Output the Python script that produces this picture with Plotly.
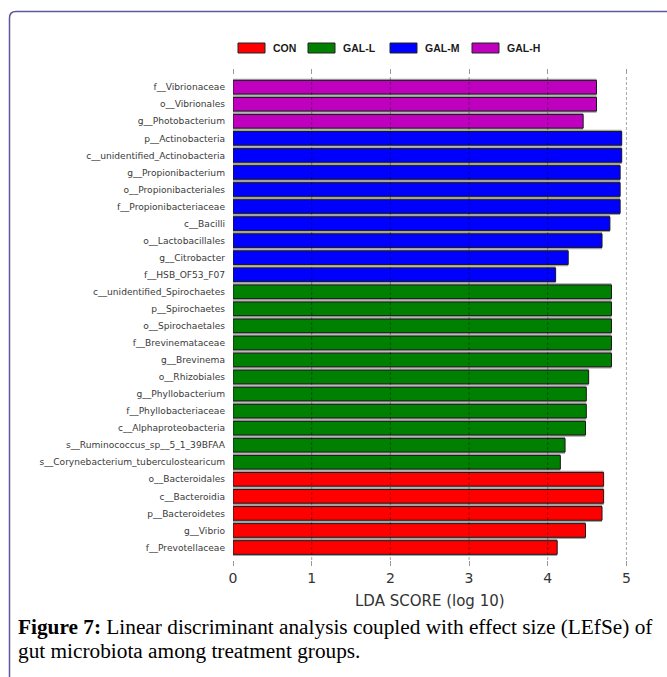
import plotly.graph_objects as go

# ---------------- data ----------------
features = [
    "f__Vibrionaceae", "o__Vibrionales", "g__Photobacterium",
    "p__Actinobacteria", "c__unidentified_Actinobacteria", "g__Propionibacterium",
    "o__Propionibacteriales", "f__Propionibacteriaceae", "c__Bacilli",
    "o__Lactobacillales", "g__Citrobacter", "f__HSB_OF53_F07",
    "c__unidentified_Spirochaetes", "p__Spirochaetes", "o__Spirochaetales",
    "f__Brevinemataceae", "g__Brevinema", "o__Rhizobiales", "g__Phyllobacterium",
    "f__Phyllobacteriaceae", "c__Alphaproteobacteria", "s__Ruminococcus_sp__5_1_39BFAA",
    "s__Corynebacterium_tuberculostearicum",
    "o__Bacteroidales", "c__Bacteroidia", "p__Bacteroidetes", "g__Vibrio", "f__Prevotellaceae",
]
scores = [
    4.62, 4.62, 4.45,
    4.94, 4.94, 4.92, 4.92, 4.92, 4.79, 4.69, 4.26, 4.10,
    4.81, 4.81, 4.81, 4.81, 4.81, 4.52, 4.49, 4.49, 4.48, 4.22, 4.16,
    4.71, 4.71, 4.69, 4.48, 4.12,
]
groups = (["GAL-H"] * 3 + ["GAL-M"] * 9 + ["GAL-L"] * 11 + ["CON"] * 5)
group_order = ["CON", "GAL-L", "GAL-M", "GAL-H"]
group_colors = {"CON": "#ff0000", "GAL-L": "#008000", "GAL-M": "#0000ff", "GAL-H": "#bf00bf"}
x_ticks = [0, 1, 2, 3, 4, 5]
x_title = "LDA SCORE (log 10)"
caption_bold = "Figure 7:"
caption_line1 = " Linear discriminant analysis coupled with effect size (LEfSe) of"
caption_line2 = "gut microbiota among treatment groups."

# ---------------- layout geometry ----------------
W, H = 667, 677
L, R, T, B = 233, 39, 75, 117
pw, ph = W - L - R, H - T - B


def px(x):
    return (x - L) / pw


def py(y):
    return (H - B - y) / ph


fig = go.Figure()

# gray halo under each bar
fig.add_trace(go.Bar(
    y=features, x=scores, orientation="h", width=1.0,
    marker=dict(color="#a3a3a3", line=dict(width=0)),
    showlegend=False, hoverinfo="skip",
))
for g in group_order:
    idx = [i for i, gg in enumerate(groups) if gg == g]
    fig.add_trace(go.Bar(
        y=[features[i] for i in idx], x=[scores[i] for i in idx],
        orientation="h", width=0.8, name=g,
        marker=dict(color=group_colors[g], line=dict(color="#1a1a1a", width=1)),
        showlegend=False,
    ))
# invisible trace to activate the top axis
fig.add_trace(go.Scatter(x=[0], y=[features[0]], xaxis="x2", mode="markers",
                         marker=dict(opacity=0), showlegend=False, hoverinfo="skip"))

# vertical dashed grid above bars
for v in x_ticks[1:]:
    fig.add_shape(type="line", xref="x", yref="paper", x0=v, x1=v, y0=0, y1=1,
                  line=dict(color="rgba(0,0,0,0.35)", width=1, dash="3px,2px"), layer="above")

# legend drawn as boxes + labels
legend_box_x = [238, 308, 390, 472]
for g, bx in zip(group_order, legend_box_x):
    fig.add_shape(type="rect", xref="paper", yref="paper",
                  x0=px(bx), x1=px(bx + 27), y0=py(53), y1=py(43),
                  fillcolor=group_colors[g], line=dict(color="#222222", width=1))
    fig.add_annotation(xref="paper", yref="paper", x=px(bx + 33), y=py(48),
                       text="<b>" + g + "</b>", showarrow=False, xanchor="left", yanchor="middle",
                       font=dict(family="Liberation Sans Narrow, Liberation Sans", size=10.5, color="#1a1a1a"))

# axis title
fig.add_annotation(xref="x", yref="paper", x=2.5, y=py(601), text=x_title, showarrow=False,
                   xanchor="center", yanchor="middle",
                   font=dict(family="DejaVu Sans", size=15, color="#333333"))

# caption
fig.add_annotation(xref="paper", yref="paper", x=px(16), y=py(627),
                   text="<b>" + caption_bold + "</b>" + caption_line1, showarrow=False,
                   xanchor="left", yanchor="middle",
                   font=dict(family="Liberation Serif", size=21.3, color="#000000"))
fig.add_annotation(xref="paper", yref="paper", x=px(16), y=py(651),
                   text=caption_line2, showarrow=False,
                   xanchor="left", yanchor="middle",
                   font=dict(family="Liberation Serif", size=21.3, color="#000000"))

# rounded border frame
fig.add_shape(type="path", xref="paper", yref="paper",
              path=(f"M {px(9.5)},{py(700)} L {px(9.5)},{py(18)} "
                    f"Q {px(9.5)},{py(11.5)} {px(16)},{py(11.5)} L {px(700)},{py(11.5)}"),
              line=dict(color="#5d579d", width=1.5), layer="above")

fig.update_layout(
    width=W, height=H,
    margin=dict(l=L, r=R, t=T, b=B, autoexpand=False),
    paper_bgcolor="white", plot_bgcolor="white",
    barmode="overlay", showlegend=False,
    xaxis=dict(range=[0, 5.02], tickvals=x_ticks, showgrid=False, zeroline=False,
               showline=False, ticks="outside", ticklen=5, tickcolor="#999999",
               tickfont=dict(family="DejaVu Sans", size=14, color="#333333")),
    xaxis2=dict(overlaying="x", side="top", matches="x", tickvals=x_ticks,
                showticklabels=False, showgrid=False, zeroline=False, showline=False,
                ticks="outside", ticklen=5, tickcolor="#999999"),
    yaxis=dict(type="category", categoryorder="array", categoryarray=features,
               range=[27.733, -0.716], showgrid=False, zeroline=False, showline=False,
               ticks="", ticklabelstandoff=7,
               tickfont=dict(family="DejaVu Sans", size=9.1, color="#3a3a3a")),
)

fig.write_html("out.html")
